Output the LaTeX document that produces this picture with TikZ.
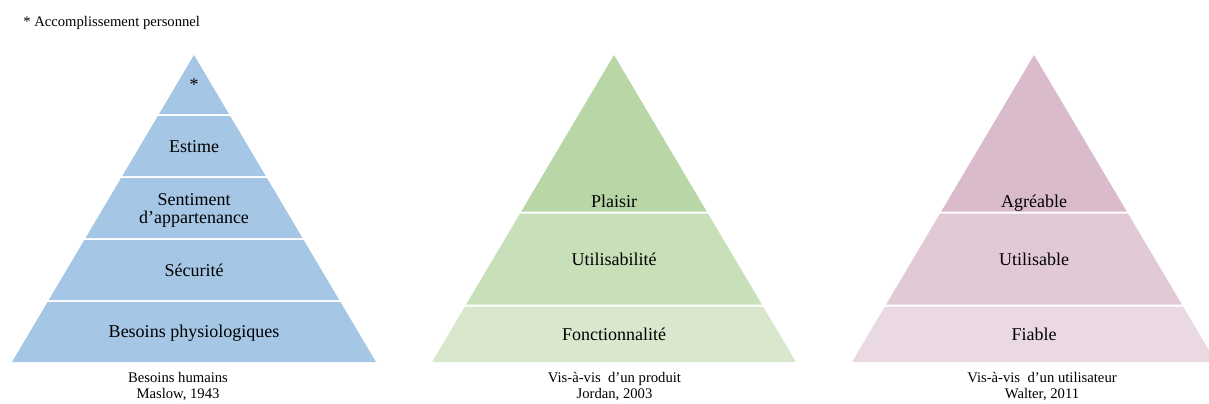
\documentclass[tikz,border=0pt]{standalone}
\usepackage{fontspec}
\setmainfont{Liberation Serif}
\definecolor{mblue}{HTML}{A5C6E4}
\definecolor{gtop}{HTML}{B8D6A6}
\definecolor{gmid}{HTML}{C8E0BA}
\definecolor{gbot}{HTML}{D9E8CD}
\definecolor{ptop}{HTML}{D9BBCC}
\definecolor{pmid}{HTML}{E2C9D6}
\definecolor{pbot}{HTML}{EAD8E2}
\newcommand{\pyrband}[4]{%
  \fill[#4] ({#1-0.59283*(#2-55)},#2) -- ({#1+0.59283*(#2-55)},#2) --
    ({#1+0.59283*(#3-55)},#3) -- ({#1-0.59283*(#3-55)},#3) -- cycle;}
\begin{document}
\begin{tikzpicture}[x=0.75pt,y=-0.75pt,
  bandlabel/.style={anchor=base,inner sep=0pt,font=\fontsize{13.5}{18}\selectfont,align=center},
  captext/.style={anchor=base,inner sep=0pt,font=\fontsize{11}{12}\selectfont}]
\useasboundingbox (0,0) rectangle (1209,403);
\node[anchor=base west,inner sep=0pt,font=\fontsize{11}{12}\selectfont] (note) at (23,27) {* Accomplissement personnel};
% Maslow
\pyrband{194}{55}{114}{mblue}
\pyrband{194}{116}{176}{mblue}
\pyrband{194}{178}{238}{mblue}
\pyrband{194}{240}{300}{mblue}
\pyrband{194}{302}{362}{mblue}
\node[bandlabel] (m1) at (194,90) {*};
\node[bandlabel] (m2) at (194,152.5) {Estime};
\node[bandlabel] (m3a) at (194,205) {Sentiment};
\node[bandlabel] (m3b) at (194,223) {d’appartenance};
\node[bandlabel] (m4) at (194,276) {Sécurité};
\node[bandlabel] (m5) at (194,337) {Besoins physiologiques};
\node[captext] (mc1) at (178,382) {Besoins humains};
\node[captext] (mc2) at (178,398) {Maslow, 1943};
% Jordan
\pyrband{614}{55}{211.5}{gtop}
\pyrband{614}{213.5}{304.5}{gmid}
\pyrband{614}{306.5}{362}{gbot}
\node[bandlabel] (j1) at (614,207) {Plaisir};
\node[bandlabel] (j2) at (614,265) {Utilisabilité};
\node[bandlabel] (j3) at (614,340) {Fonctionnalité};
\node[captext] (jc1) at (614.5,382) {Vis-à-vis\ \ d’un produit};
\node[captext] (jc2) at (614.5,398) {Jordan, 2003};
% Walter
\pyrband{1034}{55}{211.5}{ptop}
\pyrband{1034}{213.5}{304.5}{pmid}
\pyrband{1034}{306.5}{362}{pbot}
\node[bandlabel] (w1) at (1034,207) {Agréable};
\node[bandlabel] (w2) at (1034,265) {Utilisable};
\node[bandlabel] (w3) at (1034,340) {Fiable};
\node[captext] (wc1) at (1042,382) {Vis-à-vis\ \ d’un utilisateur};
\node[captext] (wc2) at (1042,398) {Walter, 2011};
\end{tikzpicture}
\end{document}
